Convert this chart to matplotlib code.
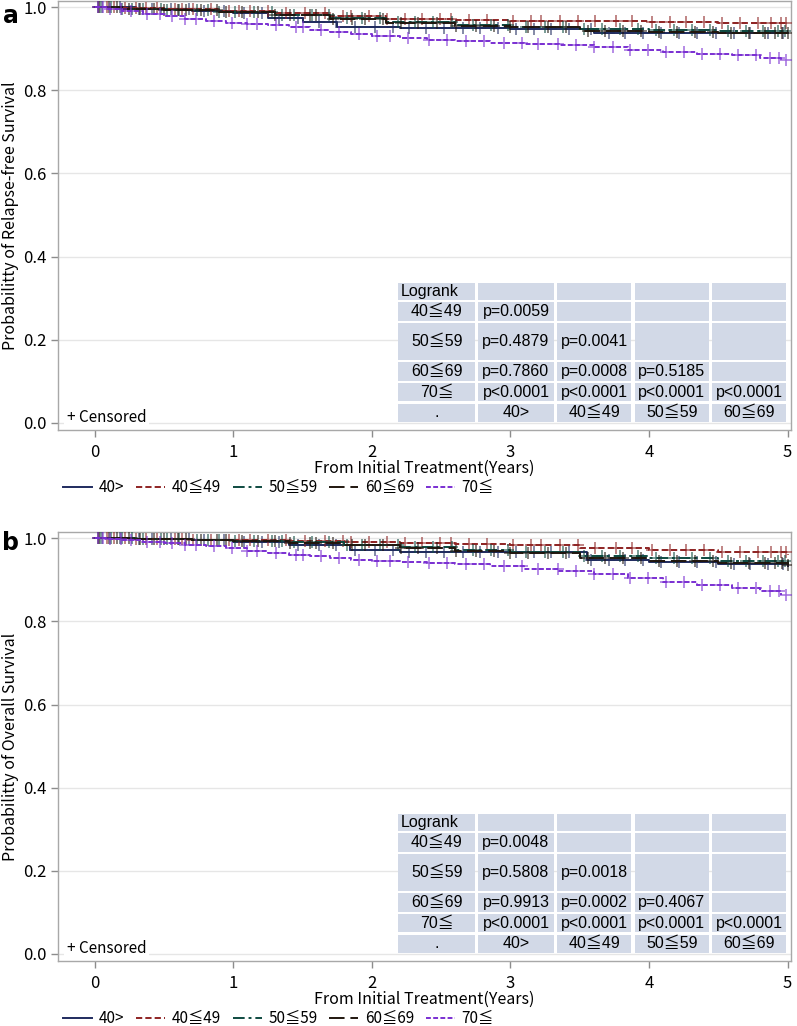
import numpy as np
import matplotlib

matplotlib.use("Agg")
import matplotlib.pyplot as plt
from matplotlib.patches import Rectangle

plt.rcParams["font.family"] = ["Noto Sans CJK JP", "DejaVu Sans"]

# group labels and line styles
groups = ["40>", "40≦49", "50≦59", "60≦69", "70≦"]
colors = ["#1F2B5E", "#8E2424", "#0E4A40", "#20160E", "#7A2FD2"]
styles = ["-", (0, (3.2, 1.6)), (0, (6, 2, 1.5, 2)), (0, (8, 3)), (0, (2.5, 1.2))]

# ---- panel a : relapse-free survival (step times / survival after step)
rfs_t = [
    [0, 0.3, 0.7, 1.0, 1.25, 1.5, 1.75, 2.2, 2.6, 3.0, 3.6, 4.2, 5.0],
    [0, 0.2, 0.5, 0.9, 1.3, 1.7, 2.1, 2.6, 3.0, 3.5, 4.0, 4.5, 5.0],
    [0, 0.2, 0.5, 0.9, 1.3, 1.7, 2.1, 2.6, 3.0, 3.5, 4.0, 4.5, 5.0],
    [0, 0.2, 0.5, 0.9, 1.3, 1.7, 2.1, 2.6, 3.0, 3.5, 4.0, 4.5, 5.0],
    [0, 0.08, 0.2, 0.35, 0.5, 0.65, 0.8, 0.95, 1.1, 1.25, 1.4, 1.55, 1.7, 1.85,
     2.0, 2.2, 2.4, 2.6, 2.85, 3.1, 3.35, 3.6, 3.85, 4.1, 4.35, 4.6, 4.8, 4.95],
]
rfs_s = [
    [1.0, 0.995, 0.99, 0.985, 0.975, 0.965, 0.953, 0.950, 0.949, 0.947, 0.939, 0.939, 0.939],
    [1.0, 0.998, 0.995, 0.990, 0.985, 0.978, 0.972, 0.969, 0.967, 0.966, 0.965, 0.963, 0.962],
    [1.0, 0.997, 0.993, 0.988, 0.982, 0.974, 0.965, 0.958, 0.953, 0.948, 0.945, 0.943, 0.942],
    [1.0, 0.997, 0.993, 0.988, 0.981, 0.972, 0.962, 0.956, 0.952, 0.944, 0.941, 0.939, 0.937],
    [1.0, 0.995, 0.990, 0.984, 0.978, 0.971, 0.967, 0.963, 0.960, 0.957, 0.952, 0.946,
     0.940, 0.935, 0.930, 0.926, 0.922, 0.918, 0.915, 0.911, 0.908, 0.905, 0.898, 0.893,
     0.888, 0.884, 0.878, 0.872],
]

# ---- panel b : overall survival
os_t = [
    [0, 0.3, 0.7, 1.0, 1.4, 1.84, 2.2, 2.6, 3.0, 3.55, 4.0, 4.5, 5.0],
    [0, 0.3, 0.7, 1.0, 1.4, 1.8, 2.2, 2.6, 3.0, 3.5, 4.0, 4.5, 5.0],
    [0, 0.3, 0.7, 1.0, 1.4, 1.8, 2.2, 2.6, 3.0, 3.5, 4.0, 4.5, 5.0],
    [0, 0.3, 0.7, 1.0, 1.4, 1.8, 2.2, 2.6, 3.0, 3.5, 4.0, 4.5, 5.0],
    [0, 0.08, 0.2, 0.35, 0.5, 0.65, 0.8, 0.95, 1.1, 1.25, 1.4, 1.55, 1.7, 1.85,
     2.0, 2.2, 2.4, 2.6, 2.85, 3.1, 3.35, 3.6, 3.85, 4.1, 4.35, 4.6, 4.8, 4.95],
]
os_s = [
    [1.0, 0.998, 0.995, 0.992, 0.985, 0.973, 0.968, 0.967, 0.966, 0.949, 0.944, 0.939, 0.934],
    [1.0, 0.999, 0.997, 0.995, 0.993, 0.990, 0.988, 0.986, 0.983, 0.977, 0.972, 0.966, 0.961],
    [1.0, 0.998, 0.996, 0.993, 0.990, 0.985, 0.978, 0.972, 0.966, 0.958, 0.952, 0.946, 0.941],
    [1.0, 0.998, 0.996, 0.993, 0.989, 0.984, 0.977, 0.970, 0.965, 0.952, 0.946, 0.940, 0.935],
    [1.0, 0.998, 0.995, 0.991, 0.988, 0.985, 0.981, 0.976, 0.970, 0.965, 0.961, 0.957,
     0.953, 0.949, 0.946, 0.943, 0.940, 0.937, 0.933, 0.927, 0.921, 0.915, 0.905, 0.896,
     0.888, 0.881, 0.873, 0.864],
]

# censoring times (years), same follow-up in both panels
censor = [
    [0.05, 0.18, 0.32, 0.41, 0.55, 0.68, 0.79, 0.93, 1.08, 1.21, 1.33, 1.47, 1.62, 1.74,
     1.88, 2.02, 2.15, 2.27, 2.39, 2.52, 2.66, 2.78, 2.91, 3.04, 3.17, 3.29, 3.42, 3.58,
     3.71, 3.83, 3.96, 4.09, 4.22, 4.35, 4.48, 4.61, 4.73, 4.86, 4.97],
    [0.03, 0.09, 0.14, 0.22, 0.30, 0.37, 0.45, 0.58, 0.63, 0.71, 0.84, 0.97, 1.04, 1.12,
     1.25, 1.38, 1.52, 1.66, 1.79, 1.85, 1.98, 2.11, 2.24, 2.36, 2.49, 2.57, 2.70, 2.83,
     3.02, 3.15, 3.22, 3.36, 3.49, 3.61, 3.76, 3.88, 4.02, 4.15, 4.27, 4.40, 4.53, 4.66,
     4.79, 4.88, 4.95, 4.99],
    [0.04, 0.12, 0.20, 0.27, 0.35, 0.48, 0.52, 0.61, 0.74, 0.82, 0.90, 1.01, 1.15, 1.28,
     1.35, 1.44, 1.57, 1.69, 1.82, 1.93, 2.06, 2.19, 2.31, 2.44, 2.58, 2.73, 2.86, 2.98,
     3.11, 3.25, 3.38, 3.53, 3.66, 3.79, 3.92, 4.05, 4.18, 4.31, 4.44, 4.57, 4.70, 4.82,
     4.93, 4.98],
    [0.02, 0.10, 0.16, 0.25, 0.33, 0.43, 0.50, 0.60, 0.66, 0.77, 0.88, 0.95, 1.06, 1.18,
     1.30, 1.41, 1.55, 1.60, 1.72, 1.86, 1.95, 2.08, 2.21, 2.33, 2.47, 2.61, 2.75, 2.88,
     3.00, 3.13, 3.27, 3.40, 3.56, 3.68, 3.81, 3.94, 4.07, 4.20, 4.33, 4.46, 4.59, 4.72,
     4.84, 4.91, 4.96, 5.00],
    [0.02, 0.06, 0.11, 0.19, 0.26, 0.38, 0.47, 0.56, 0.65, 0.73, 0.86, 0.99, 1.10, 1.17,
     1.31, 1.45, 1.50, 1.63, 1.76, 1.91, 2.04, 2.13, 2.26, 2.41, 2.54, 2.68, 2.81, 2.95,
     3.08, 3.20, 3.34, 3.47, 3.60, 3.74, 3.86, 3.99, 4.12, 4.25, 4.38, 4.51, 4.64, 4.77,
     4.87, 4.94, 4.99],
]

# logrank tables
row_labels = ["Logrank", "40≦49", "50≦59", "60≦69", "70≦", "."]
col_labels = ["40>", "40≦49", "50≦59", "60≦69"]
p_rfs = [
    ["p=0.0059"],
    ["p=0.4879", "p=0.0041"],
    ["p=0.7860", "p=0.0008", "p=0.5185"],
    ["p<0.0001", "p<0.0001", "p<0.0001", "p<0.0001"],
]
p_os = [
    ["p=0.0048"],
    ["p=0.5808", "p=0.0018"],
    ["p=0.9913", "p=0.0002", "p=0.4067"],
    ["p<0.0001", "p<0.0001", "p<0.0001", "p<0.0001"],
]

# table geometry in data units (years / probability)
COL_EDGES = [2.18, 2.755, 3.325, 3.885, 4.445, 5.0]
ROW_EDGES = [0.339, 0.294, 0.243, 0.149, 0.099, 0.049, 0.0]
CELL = "#D2D9E7"
TABLE_FONT = ["Liberation Sans", "Noto Sans CJK JP"]
AX_W_PX, AX_H_PX = 733, 429


def draw_table(ax, pvals):
    gap_x, gap_y = 0.012, 0.0025
    for r in range(6):
        for c in range(5):
            x0, x1 = COL_EDGES[c], COL_EDGES[c + 1]
            y0, y1 = ROW_EDGES[r + 1], ROW_EDGES[r]
            ax.add_patch(Rectangle((x0 + gap_x, y0 + gap_y), x1 - x0 - 2 * gap_x,
                                   y1 - y0 - 2 * gap_y, facecolor=CELL,
                                   edgecolor="none", zorder=3))
    for r, lab in enumerate(row_labels):
        yc = (ROW_EDGES[r] + ROW_EDGES[r + 1]) / 2
        if r == 0:
            ax.text(COL_EDGES[0] + 0.03, yc, lab, ha="left", va="center",
                    fontsize=11.5, family=TABLE_FONT, zorder=4)
        else:
            ax.text((COL_EDGES[0] + COL_EDGES[1]) / 2, yc, lab, ha="center",
                    va="center", fontsize=11.5, family=TABLE_FONT, zorder=4)
    for i, row in enumerate(pvals):
        r = i + 1
        yc = (ROW_EDGES[r] + ROW_EDGES[r + 1]) / 2
        for c, txt in enumerate(row):
            xc = (COL_EDGES[c + 1] + COL_EDGES[c + 2]) / 2
            ax.text(xc, yc, txt, ha="center", va="center", fontsize=11.5,
                    family=TABLE_FONT, zorder=4)
    yc = (ROW_EDGES[5] + ROW_EDGES[6]) / 2
    for c, lab in enumerate(col_labels):
        xc = (COL_EDGES[c + 1] + COL_EDGES[c + 2]) / 2
        ax.text(xc, yc, lab, ha="center", va="center", fontsize=11.5,
                family=TABLE_FONT, zorder=4)


def draw_panel(ax, times, surv, pvals, ylabel):
    for g in range(5):
        t = np.array(times[g])
        s = np.array(surv[g])
        ax.step(t, s, where="post", color=colors[g], linestyle=styles[g],
                linewidth=1.4, label=groups[g], zorder=5)
        ct = np.array(censor[g])
        idx = np.searchsorted(t, ct, side="right") - 1
        ax.plot(ct, s[idx], linestyle="none", marker="+", markersize=8,
                markeredgewidth=1.1, color=colors[g], alpha=0.7, zorder=5)

    ax.set_xlim(-0.265, 5.025)
    ax.set_ylim(-0.017, 1.015)
    ax.set_xticks([0, 1, 2, 3, 4, 5])
    ax.set_yticks([0.0, 0.2, 0.4, 0.6, 0.8, 1.0])
    ax.set_yticklabels(["0.0", "0.2", "0.4", "0.6", "0.8", "1.0"])
    ax.tick_params(labelsize=12, color="#8C8C8C", length=5, width=1)
    ax.tick_params(axis="x", pad=5)
    ax.tick_params(axis="y", pad=3)
    ax.grid(axis="y", color="#E6E6E6", linewidth=1)
    ax.set_axisbelow(True)
    for sp in ax.spines.values():
        sp.set_color("#A8A8A8")
        sp.set_linewidth(1)
    ax.set_xlabel("From Initial Treatment(Years)", fontsize=11.5, va="center")
    ax.xaxis.set_label_coords(0.5, -38 / AX_H_PX)
    ax.set_ylabel(ylabel, fontsize=11.5, va="center")
    ax.yaxis.set_label_coords(-48 / AX_W_PX, 0.5)

    draw_table(ax, pvals)

    ax.text(0.012, 0.03, "+ Censored", transform=ax.transAxes, fontsize=11,
            va="center", ha="left", zorder=4,
            bbox=dict(facecolor="white", edgecolor="none", pad=2))

    ax.legend(loc="center left", bbox_to_anchor=(0.007, -58 / AX_H_PX), ncol=5,
              frameon=False, fontsize=11, handlelength=1.9, handletextpad=0.45,
              columnspacing=0.75, borderaxespad=0, borderpad=0)


fig = plt.figure(figsize=(7.97, 10.26), dpi=100)
ax_a = fig.add_axes([0.0728, 0.581, 0.9197, 0.418])
ax_b = fig.add_axes([0.0728, 0.0634, 0.9197, 0.418])

draw_panel(ax_a, rfs_t, rfs_s, p_rfs, "Probabilitty of Relapse-free Survival")
draw_panel(ax_b, os_t, os_s, p_os, "Probabilitty of Overall Survival")

fig.text(11 / 797, 1 - 23 / 1026, "a", fontsize=17, fontweight="bold",
         family="DejaVu Sans", ha="center", va="baseline")
fig.text(11 / 797, 1 - 550 / 1026, "b", fontsize=17, fontweight="bold",
         family="DejaVu Sans", ha="center", va="baseline")

fig.savefig("out.png", dpi=100)
